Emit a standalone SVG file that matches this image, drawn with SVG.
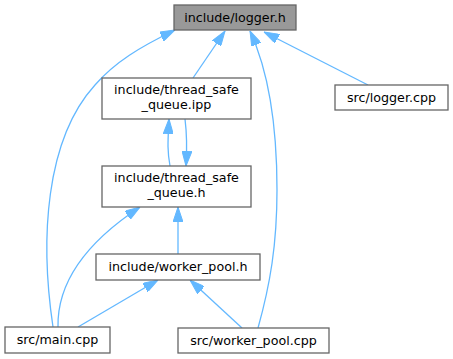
<svg xmlns="http://www.w3.org/2000/svg" width="453" height="359" viewBox="0 0 453 359">
  <style>
    .node rect { fill: #ffffff; stroke: #666666; stroke-width: 1.3; }
    .node.root rect { fill: #999999; }
    .node text { font-family: "DejaVu Sans", sans-serif; font-size: 12.7px; fill: #000000; text-anchor: middle; }
    .edge { fill: none; stroke: #63b8ff; stroke-width: 1.3; marker-end: url(#arrow); }
  </style>
  <defs>
    <marker id="arrow" viewBox="0 0 15 10" refX="15" refY="5" markerWidth="15" markerHeight="10" markerUnits="userSpaceOnUse" orient="auto">
      <path d="M0,0 L15,5 L0,10 z" fill="#63b8ff" stroke="#63b8ff" stroke-width="1"/>
    </marker>
  </defs>
  <rect width="453" height="359" fill="#ffffff"/>

  <g id="connectors">
    <path class="edge" d="M53,327 C40,240 45,140 95,85 C115,62 140,47 175,30"/>
    <path class="edge" d="M193,78 L225,31"/>
    <path class="edge" d="M258,328 C270,285 277,245 277,190 C277,120 268,70 250,31"/>
    <path class="edge" d="M368,85 L264,32"/>
    <path class="edge" d="M170,166 C167,150 168,140 169,119"/>
    <path class="edge" d="M185,119 C187,135 187,150 186,166"/>
    <path class="edge" d="M178,254 L178,207"/>
    <path class="edge" d="M58,327 C57,280 90,240 140,207"/>
    <path class="edge" d="M78,327 L158,280"/>
    <path class="edge" d="M242,328 L190,280"/>
  </g>

  <g id="node-logger-h" class="node root">
    <rect x="174" y="5" width="122" height="25"/>
    <text x="235" y="22">include/logger.h</text>
  </g>
  <g id="node-thread-safe-queue-ipp" class="node">
    <rect x="102" y="78" width="149" height="41"/>
    <text x="176.5" y="94">include/thread_safe</text>
    <text x="176.5" y="109">_queue.ipp</text>
  </g>
  <g id="node-logger-cpp" class="node">
    <rect x="335" y="85" width="113" height="25"/>
    <text x="391.5" y="102">src/logger.cpp</text>
  </g>
  <g id="node-thread-safe-queue-h" class="node">
    <rect x="102" y="166" width="149" height="41"/>
    <text x="176.5" y="182">include/thread_safe</text>
    <text x="176.5" y="197">_queue.h</text>
  </g>
  <g id="node-worker-pool-h" class="node">
    <rect x="96" y="254" width="164" height="26"/>
    <text x="178" y="271">include/worker_pool.h</text>
  </g>
  <g id="node-main-cpp" class="node">
    <rect x="5" y="327" width="105" height="26"/>
    <text x="57.5" y="344">src/main.cpp</text>
  </g>
  <g id="node-worker-pool-cpp" class="node">
    <rect x="178" y="328" width="151" height="25"/>
    <text x="253.5" y="345">src/worker_pool.cpp</text>
  </g>
</svg>
